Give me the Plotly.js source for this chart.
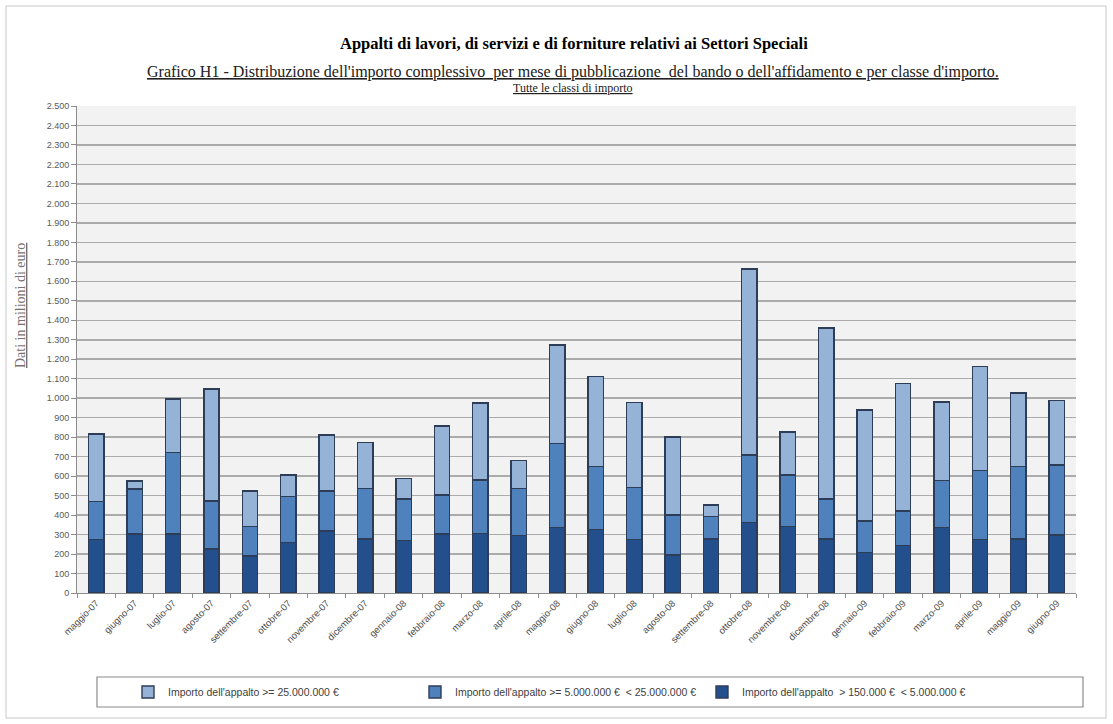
<!DOCTYPE html>
<html>
<head>
<meta charset="utf-8">
<script src="https://cdn.plot.ly/plotly-3.0.1.min.js"></script>
<style>
html,body{margin:0;padding:0;background:#fff;}
#chart{width:1113px;height:724px;}
</style>
</head>
<body>
<div id="chart"></div>
<script>
const months = ["maggio-07","giugno-07","luglio-07","agosto-07","settembre-07","ottobre-07","novembre-07","dicembre-07",
  "gennaio-08","febbraio-08","marzo-08","aprile-08","maggio-08","giugno-08","luglio-08","agosto-08","settembre-08",
  "ottobre-08","novembre-08","dicembre-08","gennaio-09","febbraio-09","marzo-09","aprile-09","maggio-09","giugno-09"];

// Dati in milioni di euro
const smallClass = [276,303,303,226,190,260,319,277,269,303,305,296,337,327,276,195,277,361,341,277,207,243,337,276,277,298];
const midClass   = [193,231,418,247,151,235,205,261,214,201,276,242,429,322,267,206,115,348,265,206,163,178,240,354,372,360];
const largeClass = [348,41,274,574,183,110,288,236,106,354,394,142,508,462,435,399,59,954,220,877,570,653,403,533,377,329];

const seriesNames = [
  "Importo dell'appalto  > 150.000 €  < 5.000.000 €",
  "Importo dell'appalto >= 5.000.000 €  < 25.000.000 €",
  "Importo dell'appalto >= 25.000.000 €"
];
const seriesColors = ["#234f8c", "#4f81bd", "#95b3d7"];
const seriesData = [smallClass, midClass, largeClass];

const traces = seriesData.map((vals, i) => ({
  type: "bar",
  name: seriesNames[i],
  x: months,
  y: vals,
  marker: {color: seriesColors[i], line: {color: "#2e3d57", width: 1.4}},
  hoverinfo: "x+y+name"
}));

// pixel helpers for paper coordinates (plot area x:77-1076, y:106-593)
const L = 77, R = 1076, T = 106, B = 593;
const px = v => (v - L) / (R - L);
const py = v => (B - v) / (B - T);

const layout = {
  width: 1113, height: 724,
  margin: {l: L, r: 1113 - R, t: T, b: 724 - B, pad: 0},
  paper_bgcolor: "#ffffff",
  plot_bgcolor: "#f2f2f2",
  barmode: "stack",
  bargap: 0.6,
  separators: ",.",
  showlegend: true,
  legend: {
    orientation: "h", traceorder: "reversed",
    x: px(128), xanchor: "left", xref: "paper",
    y: py(692), yanchor: "middle", yref: "paper",
    font: {family: "Liberation Sans, Arial, sans-serif", size: 10.5, color: "#404040"},
    bgcolor: "rgba(0,0,0,0)", borderwidth: 0,
    entrywidth: 242, itemwidth: 30
  },
  xaxis: {
    type: "category",
    tickangle: -45,
    tickfont: {family: "Liberation Sans, Arial, sans-serif", size: 9.5, color: "#505050"},
    showline: true, linecolor: "#8c8c8c", linewidth: 1,
    ticks: "outside", ticklen: 4, tickcolor: "#8c8c8c", tickson: "boundaries",
    showgrid: false, zeroline: false, automargin: false
  },
  yaxis: {
    range: [0, 2500], dtick: 100, tick0: 0,
    tickformat: ",d",
    tickfont: {family: "Liberation Sans, Arial, sans-serif", size: 9, color: "#595959"},
    showline: true, linecolor: "#8c8c8c", linewidth: 1,
    ticks: "outside", ticklen: 5, tickcolor: "#8c8c8c",
    showgrid: true, gridcolor: "#ababab", gridwidth: 1.5,
    zeroline: false, automargin: false, fixedrange: true
  },
  annotations: [
    {text: "<b>Appalti di lavori, di servizi e di forniture relativi ai Settori Speciali</b>",
     xref: "paper", yref: "paper", x: px(574), y: py(43), xanchor: "center", yanchor: "middle",
     showarrow: false, font: {family: "Liberation Serif, Times New Roman, serif", size: 16.5, color: "#000"}},
    {text: "<u>Grafico H1 - Distribuzione dell'importo complessivo  per mese di pubblicazione  del bando o dell'affidamento e per classe d'importo.</u>",
     xref: "paper", yref: "paper", x: px(573), y: py(72), xanchor: "center", yanchor: "middle",
     showarrow: false, font: {family: "Liberation Serif, Times New Roman, serif", size: 16, color: "#202020"}},
    {text: "<u>Tutte le classi di importo</u>",
     xref: "paper", yref: "paper", x: px(573), y: py(88), xanchor: "center", yanchor: "middle",
     showarrow: false, font: {family: "Liberation Serif, Times New Roman, serif", size: 12, color: "#202020"}},
    {text: "<u>Dati in milioni di euro</u>",
     xref: "paper", yref: "paper", x: px(20), y: py(306), xanchor: "center", yanchor: "middle",
     textangle: -90, showarrow: false,
     font: {family: "Liberation Serif, Times New Roman, serif", size: 14, color: "#7a6f6f"}}
  ],
  shapes: [
    {type: "rect", xref: "paper", yref: "paper", x0: px(6), x1: px(1106), y0: py(6), y1: py(718),
     line: {color: "#c8c8c8", width: 1}, fillcolor: "rgba(0,0,0,0)", layer: "below"},
    {type: "rect", xref: "paper", yref: "paper", x0: px(97), x1: px(1083), y0: py(677), y1: py(707),
     line: {color: "#8c8c8c", width: 1.2}, fillcolor: "rgba(0,0,0,0)"}
  ]
};

Plotly.newPlot("chart", traces, layout, {displayModeBar: false, staticPlot: true});
</script>
</body>
</html>
